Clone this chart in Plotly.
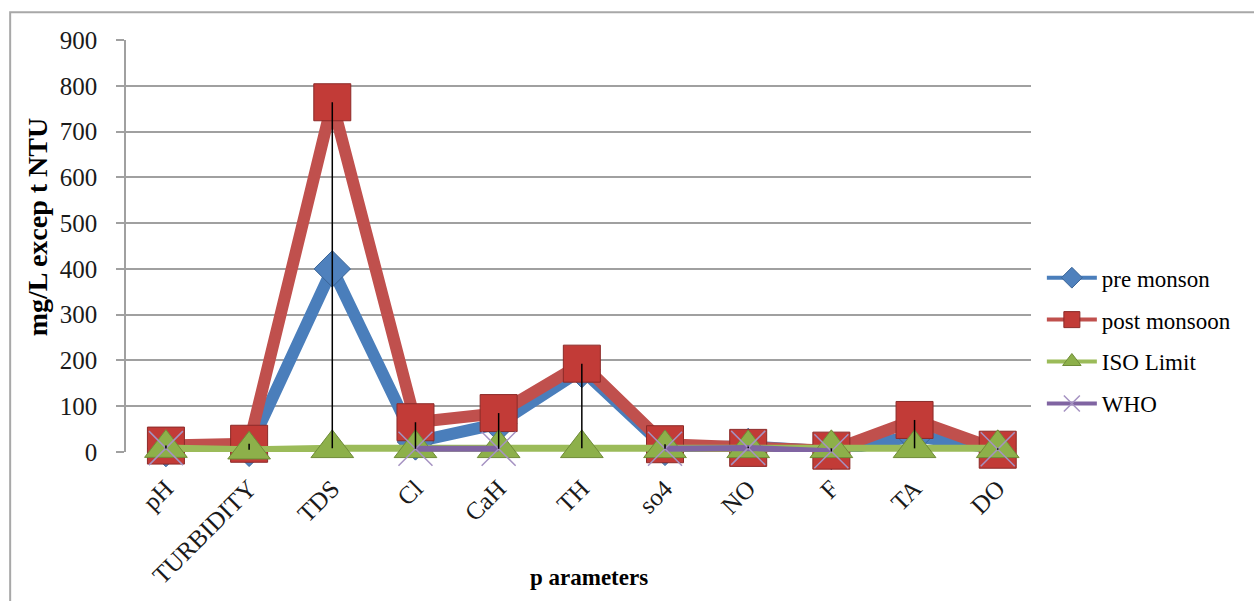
import plotly.graph_objects as go

# Water-quality parameters and measured / limit values
categories = ["pH", "TURBIDITY", "TDS", "Cl", "CaH", "TH", "so4", "NO", "F", "TA", "DO"]
pre_monsoon = [7.5, 8, 400, 22, 62, 180, 10, 12, 1, 35, 7]
post_monsoon = [14, 18, 764, 65, 85, 193, 17, 9, 3, 70, 5]
iso_limit = [8.5, 5, 8, 8, 8, 8, 8, 8, 8, 8, 8]
who_limit = [8.5, None, None, 7, 7, None, 7, 9, 1.5, None, 6]
y_ticks = [0, 100, 200, 300, 400, 500, 600, 700, 800, 900]

FONT = "Liberation Serif"
GRID = "#a0a0a0"

# name, values, line colour, line width, marker symbol, marker size, fill, edge
series = [
    ("pre monson", pre_monsoon, "#4a7ebb", 12, "diamond", 28, "#4f81bd", "#3a6496"),
    ("post monsoon", post_monsoon, "#c0504d", 12, "square", 37, "#c23b37", "#8c2a28"),
    ("ISO Limit", iso_limit, "#9bbb59", 7, "triangle-up", 37, "#8db04a", "#6f8c38"),
    ("WHO", who_limit, "#8064a2", 6, "x-thin", 34, "#b3a2c7", "#a592c2"),
]

fig = go.Figure()

for name, vals, lc, lw, sym, ms, fc, ec in series:
    fig.add_trace(go.Scatter(
        x=categories, y=vals, name=name, mode="lines+markers",
        showlegend=False, connectgaps=False,
        line=dict(color=lc, width=lw),
        marker=dict(symbol=sym, size=ms, color=fc,
                    line=dict(color=ec, width=1.5 if sym == "x-thin" else 1)),
        cliponaxis=False,
    ))

# High-low lines: from the lowest to the highest value in each category
hl_x, hl_y = [], []
for i, cat in enumerate(categories):
    vals = [s[i] for s in (pre_monsoon, post_monsoon, iso_limit, who_limit) if s[i] is not None]
    hl_x += [cat, cat, None]
    hl_y += [min(vals), max(vals), None]
fig.add_trace(go.Scatter(
    x=hl_x, y=hl_y, mode="lines", showlegend=False, hoverinfo="skip",
    line=dict(color="black", width=1.5), cliponaxis=False,
))

# Legend entries with slimmer line samples
for k, (name, vals, lc, lw, sym, ms, fc, ec) in enumerate(series):
    fig.add_trace(go.Scatter(
        x=[None], y=[None], name=name, mode="lines+markers",
        legendgroup=f"g{k}",
        line=dict(color=lc, width=4),
        marker=dict(symbol=sym, size=16, color=fc,
                    line=dict(color=ec, width=1.5 if sym == "x-thin" else 1)),
    ))

fig.update_layout(
    width=1254, height=601,
    margin=dict(l=126, r=223, t=40, b=147),
    paper_bgcolor="white", plot_bgcolor="white",
    font=dict(family=FONT, color="black"),
    showlegend=True,
    legend=dict(
        x=1.012, y=0.27, xanchor="left", yanchor="middle",
        font=dict(family=FONT, size=23, color="black"),
        traceorder="grouped", tracegroupgap=9,
        itemwidth=50,
        bgcolor="rgba(0,0,0,0)",
    ),
    xaxis=dict(
        type="category", range=[-0.48, 10.4],
        tickangle=-45, ticks="", ticklabelstandoff=16,
        tickfont=dict(family=FONT, size=25, color="#1a1a1a"),
        showgrid=False, showline=False, zeroline=False,
    ),
    yaxis=dict(
        range=[0, 900], tickvals=y_ticks,
        ticks="outside", ticklen=8, tickcolor=GRID, tickwidth=1.5,
        ticklabelstandoff=14,
        tickfont=dict(family=FONT, size=25, color="#1a1a1a"),
        showgrid=True, gridcolor=GRID, gridwidth=1.5,
        showline=True, linecolor=GRID, linewidth=1.5,
        zeroline=False,
    ),
    annotations=[
        dict(text="<b>mg/L excep t NTU</b>", textangle=-90,
             xref="paper", yref="paper", x=-0.098, y=0.546,
             xanchor="center", yanchor="middle", showarrow=False,
             font=dict(family=FONT, size=28, color="black")),
        dict(text="<b>p arameters</b>",
             xref="paper", yref="paper", x=0.5116, y=-0.304,
             xanchor="center", yanchor="middle", showarrow=False,
             font=dict(family=FONT, size=23, color="black")),
    ],
    shapes=[
        dict(type="rect", xref="paper", yref="paper",
             x0=-0.128, x1=1.4, y0=-0.6, y1=1.0676,
             line=dict(color="#a8a8a8", width=2), layer="below"),
    ],
)

fig.write_html("out.html")
